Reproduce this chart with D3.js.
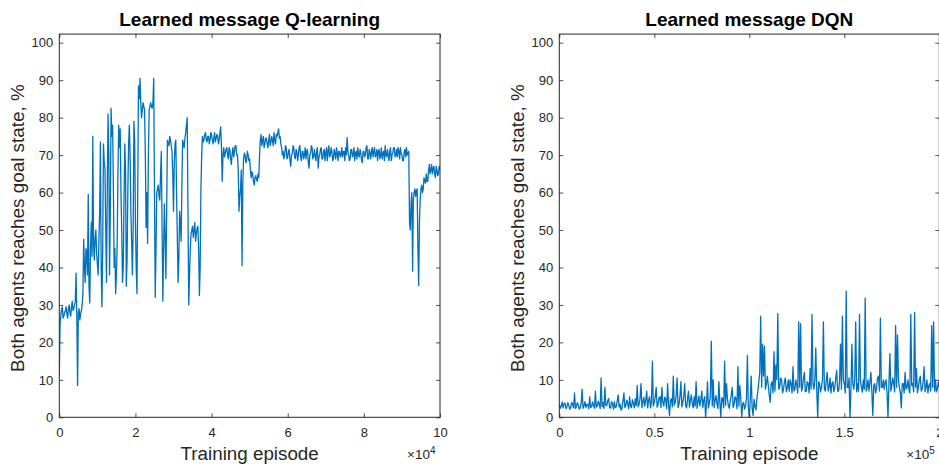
<!DOCTYPE html>
<html><head><meta charset="utf-8">
<script src="https://cdn.jsdelivr.net/npm/d3@7/dist/d3.min.js"></script>
<style>
body{margin:0;background:#fff}
svg{display:block}
text{font-family:"Liberation Sans",Arial,Helvetica,sans-serif}
</style>
</head><body>
<svg id="c" width="939" height="464"></svg>
<script>
// ---------------- data ----------------
const qStep = 200; // episodes between samples, Q-learning
const qValues = [
11,25,27,29,29.5,26.5,27,28,28.5,29.5,27.5,26.5,29,30,28,27,29.5,31,28.5,29,30,31,38.5,27,8.5,28,29,26,27.5,28.5,30,33,
47.5,40,36,45,44,38,59.5,35,30.5,45,52,43,75,46,42,48,50,44,41,38,47,55,73.5,40,29.5,45,73,68,66.5,50,36,60,81,70,38,55,82.5,75,78,62,40,45,33,38,46,65,78,72,77,60,50,36,40,58,73,66,35,42,60,73,78,70,55,47,38,50,79,74,52,40,33,60,
88.5,85,90.5,84,80,82,84,83,82,70,50.7,60,46.4,70,82,83,84,83,82.5,84,90.5,60,32,45,60,61,62,59,58,65,71,50,31,45,57,48,37,55,74,73,72.5,75,74,72.5,71,65,55,68,73,74,60,48,36,42,55,52,47,62,74,73,72,74.5,76,78,80,55,30,38,44.5,49,50,51,48,50,52,47,49,50.5,51,45,32.5,40,61,70,
75,73.5,74,75.5,76,74,73.5,75,75,73,74,76,75.5,74,73,74.5,76,73.5,74.5,75.5,75,73,74,76,77.5,72,63,70,
72,69.5,70.5,71.5,72,70,69,72,71.5,69,67.5,70.5,72,69.5,71,72.5,72.5,70,70,66,
55,59,61,66,40.5,62,69,70.5,70,68,68.5,71,70,68.5,69,66,64,65.5,65,63,62,64,64.5,63.5,63,65,64,70,
74,75.5,72.5,74,75,72,73,74.5,74.5,73,72,74,75.5,72.5,73.5,75,74,72.5,76,74,73,75.5,75,76,77,74.5,75,73,72,70,
71,69,70,72.5,72,69,69.5,71,71.5,68.5,67,70,70.5,72.5,72,69.5,69,71.5,71,68.5,70,72,72.5,69.5,68.5,71,71,69,
70,72,69,71,71.5,68,66.5,70,70.5,72.5,72,69,69.5,71.5,70,68.5,71,72,66.5,69.5,70,71.5,72,69,69,71,71.5,68.5,70.5,72,
68.5,71,72.5,69.5,70,72,71,68.5,69,71.5,70.5,69,72,70.5,68.5,71,71,69.5,70,72,69.5,71,71,68.5,72,70,74.7,71,70,68.5,
69,71.5,71.5,69.5,70,72,68.5,70.5,71,69,72,70,69.5,71.5,70.5,68.5,68,71,71,69.5,70,72,72.5,69,69,71.5,70.5,69,71,72,
69.5,71,72,69.5,70,71.5,68.5,71,71.5,69,70,72,69,70.5,71,68.5,72.5,70,69.5,71.5,70,68.5,71,72,68.5,70,70.5,72,72,69.5,
70,71.5,69.5,72,71,69,72,70.5,70,68.5,68.5,71,71.5,69.5,72,70,70.5,71,
52,50,57,60,39,58,60,61,59,60.5,61,45,35.2,52,58,61,62,60,61,64,63,62.5,65,63,63,66,67.5,65,66,67.5,65,66.5,67,65,64,67,66,64.5,65,67,66];

const dqnStep = 500; // episodes between samples, DQN
const dqnValues = [
3.5,2.4,3,4.1,2.5,3.6,3.8,2.3,2.8,3.9,3.2,2.2,2.6,4,3.5,2.5,6.5,2.4,2.8,3.9,3.3,2.2,2.5,3.7,7.5,2.4,3,4.2,2.6,3.5,3.4,2.3,5.5,2.6,2.8,4.1,3.2,2.4,7,2.7,3,4.3,
3.5,2.3,10.5,2.8,4,2.4,8,3.1,3.2,4.5,5,2.5,2.5,4.2,3.6,2.2,4.2,2.6,2.8,4.4,6,2.7,3.5,1.9,2.4,4.3,6.5,2.6,3.1,4.6,3.7,2.3,5.5,2.9,2.6,4.7,3.8,2.5,5,3.1,
8.5,2.8,3.5,5,9,2.6,4.2,5.3,3,4.6,7,2.5,4.5,5.5,2.5,4,15,3,4,5.5,8,2.7,3.5,5.2,5.5,2.6,8,4,3,5.4,4.8,2.3,9,3.5,0.5,4.5,5,2.8,11,3.2,
4,5.8,10.5,2.6,3.5,5.5,9.5,2.8,4,5.6,9,3,2.5,5,7,2.7,4.5,6,3.5,2.5,5.5,3,9.5,2.4,4,5.7,3,4.8,7,2.6,4.5,5.5,0,3.8,9.5,2.5,4,5.6,20.3,3,
10,2.6,4.5,5.8,3.5,2.4,9.5,4,0,5.2,5,2.5,15,3.2,9,5,3,2.4,4.5,5.9,8,2.7,3.5,5.5,5,2.3,13.5,3,8.5,5.2,0,3.6,4,2.2,3,5,16.5,2.5,0,4.6,
11,2.4,0.5,4.8,3,2,5,7,9.5,12,27,8,19.5,11,19,7.5,9,11,8.5,6,4,9,9.5,6.5,17.5,7,14,10,27.7,7.5,8,10.5,10,6.5,7.5,9.5,10.5,6.8,8,10,
7,10,9,6.5,13.5,7,7.5,10,8.5,6.5,25.5,8,25,7,8,10.5,12,6.8,7,9.5,9,6.5,13,7.5,27.5,9,7.5,10,18.5,7,0,9.5,9,6.8,8,10,25.5,7.5,7,9.8,
12,7,8,10.5,6.5,9,9.5,6.8,8,10.5,12.5,7,7,9.5,19.5,7.5,27,10,9,6.5,33.7,8,8,10.5,0,7.5,19.5,9,7.5,10,25.5,6.8,9,7,27.5,9.5,8,6.7,10,7.5,
31.8,7,8,10,7,9.5,12,6.8,0.5,8.5,9,6.5,8,10.5,11,7,26.5,8,8,10,7.5,9.5,10,6.5,0,9,17,7,8.5,10.5,9,6.8,24.5,8,22,10,8,6.5,2.5,9,
9,6.5,12,7.5,8,10,7.5,6.5,27.5,8.5,9,6.8,28,8,13,6.5,8,10,11,7,7.5,9.5,13.5,6.8,8,10,6.5,8.5,9,7,24.5,8,25.5,7,10,6.8,7.5,9.5,8];

const yTicks = [0,10,20,30,40,50,60,70,80,90,100];
const qXTicks = [0,20000,40000,60000,80000,100000];
const dqnXTicks = [0,50000,100000,150000,200000];

const titles = ["Learned message Q-learning","Learned message DQN"];
const yLabel = "Both agents reaches goal state, %";
const xLabel = "Training episode";

// ---------------- drawing ----------------
const svg = d3.select("#c");
const TOP = 34.1, BOTTOM = 417.3;
const axisCol = "#262626";

function panel(cfg){
  const x = d3.scaleLinear().domain([0, cfg.xMax]).range([cfg.left, cfg.right]);
  const y = d3.scaleLinear().domain([0, 102.3]).range([BOTTOM, TOP]);
  const g = svg.append("g");

  const clipId = "clip" + cfg.id;
  svg.append("clipPath").attr("id", clipId).append("rect")
    .attr("x", cfg.left).attr("y", TOP).attr("width", cfg.right - cfg.left).attr("height", BOTTOM - TOP);

  const data = cfg.values.map((v,i)=>({ep:i*cfg.step, v}));
  g.append("path").datum(data)
    .attr("clip-path", `url(#${clipId})`)
    .attr("fill","none").attr("stroke","#0072BD").attr("stroke-width",1.3)
    .attr("stroke-linejoin","round")
    .attr("d", d3.line().x(d=>x(d.ep)).y(d=>y(d.v)));

  const fmt = v => String(+(v/cfg.div).toFixed(2));
  const style = sel => {
    sel.select(".domain").remove();
    sel.selectAll("line").attr("stroke", axisCol).attr("stroke-width",0.8);
    sel.selectAll("text").attr("fill", axisCol).style("font-size","13px")
      .style("font-family","'Liberation Sans',Arial,sans-serif");
  };
  g.append("g").attr("transform",`translate(0,${BOTTOM})`)
    .call(d3.axisBottom(x).tickValues(cfg.xTicks).tickFormat(fmt).tickSizeInner(-4).tickSizeOuter(0).tickPadding(10))
    .call(style);
  g.append("g").attr("transform",`translate(0,${TOP})`)
    .call(d3.axisTop(x).tickValues(cfg.xTicks).tickFormat("").tickSizeInner(-4).tickSizeOuter(0))
    .call(style);
  g.append("g").attr("transform",`translate(${cfg.left},0)`)
    .call(d3.axisLeft(y).tickValues(yTicks).tickSizeInner(-4).tickSizeOuter(0).tickPadding(6))
    .call(style);
  g.append("g").attr("transform",`translate(${cfg.right},0)`)
    .call(d3.axisRight(y).tickValues(yTicks).tickFormat("").tickSizeInner(-4).tickSizeOuter(0))
    .call(style);

  g.append("rect").attr("x",cfg.left).attr("y",TOP)
    .attr("width",cfg.right-cfg.left).attr("height",BOTTOM-TOP)
    .attr("fill","none").attr("stroke",axisCol).attr("stroke-width",1);

  const cx = (cfg.left + cfg.right)/2;
  g.append("text").attr("x",cx).attr("y",25.5).attr("text-anchor","middle")
    .style("font-size","19px").style("font-weight","bold").attr("fill","#000")
    .text(cfg.title);
  g.append("text").attr("x",cx).attr("y",459.5).attr("text-anchor","middle")
    .style("font-size","18.8px").attr("fill",axisCol).text(xLabel);
  g.append("text").attr("transform",`translate(${cfg.left-35.5},228) rotate(-90)`)
    .attr("text-anchor","middle").style("font-size","18.9px").attr("fill",axisCol).text(yLabel);

  const ex = g.append("text").attr("x",cfg.right-33).attr("y",459.3)
    .style("font-size","13.5px").attr("fill",axisCol);
  ex.append("tspan").text("\u00d710");
  ex.append("tspan").attr("dy",-5.5).style("font-size","10px").text(cfg.exp);
}

panel({id:1, left:59.3, right:440, xMax:100000, step:qStep, values:qValues,
       xTicks:qXTicks, div:1e4, exp:"4", title:titles[0]});
panel({id:2, left:559.3, right:939.3, xMax:200000, step:dqnStep, values:dqnValues,
       xTicks:dqnXTicks, div:1e5, exp:"5", title:titles[1]});
</script>
</body></html>
